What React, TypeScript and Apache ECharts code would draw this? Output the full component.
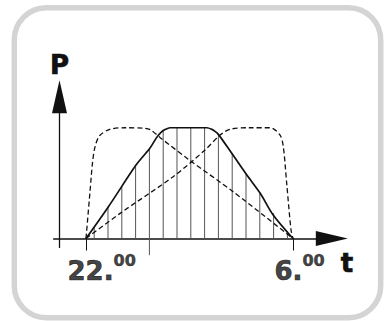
import React, { useEffect, useRef } from "react";
import * as echarts from "echarts";

// time in minutes after 22:00, power in % of maximum
const solidX = [0, 52, 116, 148, 164, 174, 183, 195, 280, 292, 300, 307, 338, 373, 404, 434, 480];
const solidY = [0, 28.7, 66.3, 81.4, 91.3, 95.8, 98.3, 100, 100, 98.5, 96.5, 94, 76.9, 57.3, 40.8, 21.2, 0];

const dashAX = [0, 9, 15, 21, 32, 55, 90, 135, 150, 172, 241, 342, 480];
const dashAY = [0, 41, 68, 83, 93, 98.5, 100, 99.5, 98, 91, 70.5, 42, 0];

const dashBX = [0, 79, 202, 276, 311, 334, 380, 427, 450, 457.5, 465.4, 475.4, 480];
const dashBY = [0, 22.7, 55.8, 79.9, 93.4, 98.6, 100, 100, 93.4, 82.9, 49.8, 7.7, 0];

const hatchX = [19, 51, 83, 115, 147, 179, 211, 243, 275, 307, 339, 371, 403, 435, 467];
const hatchTop = [10.5, 28.5, 46.5, 64.5, 81, 97.5, 100, 100, 100, 94, 76.5, 58.5, 41, 23, 6.5];
const hatchBottom = [0, 0, 0, 0, -15, 0, 0, 0, 0, 0, 0, 0, 0, 0, 0];

const timeTickValues = [0, 480];
const timeLabelMain = ["22.", "6."];
const timeLabelSup = ["00", "00"];

const FONT = "DejaVu Sans";
const INK = "#111111";

const heavy = {
  fontFamily: FONT,
  fontWeight: "bold",
  color: INK,
  textBorderColor: INK,
  textBorderWidth: 0.7,
};

export default function App() {
  const ref = useRef<HTMLDivElement>(null);
  useEffect(() => {
    if (!ref.current) return;
    const chart = echarts.init(ref.current, undefined, { renderer: "svg" });
    const zip = (xs: number[], ys: number[]) => xs.map((x, i) => [x, ys[i]]);
    chart.setOption({
      animation: false,
      backgroundColor: "#ffffff",
      graphic: [
        {
          type: "rect",
          shape: { x: 14.3, y: 7.8, width: 366.4, height: 310, r: 32 },
          style: { fill: "#ffffff", stroke: "#d4d4d4", lineWidth: 5.5 },
          z: -10,
          silent: true,
        },
      ],
      grid: { left: 53.66, top: 96.7, width: 278.16, height: 150.7 },
      xAxis: {
        type: "value",
        min: -75,
        max: 570,
        splitLine: { show: false },
        axisLabel: { show: false },
        axisTick: {
          show: true,
          customValues: timeTickValues,
          length: 12,
          lineStyle: { color: INK, width: 1 },
        },
        axisLine: {
          show: true,
          onZero: true,
          symbol: ["none", "triangle"],
          symbolSize: [15, 32],
          lineStyle: { color: INK, width: 1.5 },
        },
        name: "t",
        nameLocation: "end",
        nameGap: 9,
        nameTextStyle: {
          ...heavy,
          fontSize: 26,
          verticalAlign: "top",
          padding: [11, 0, 0, 0],
        },
      },
      yAxis: {
        type: "value",
        min: -8,
        max: 128,
        offset: -5.84,
        splitLine: { show: false },
        axisLabel: { show: false },
        axisTick: { show: false },
        axisLine: {
          show: true,
          onZero: false,
          symbol: ["none", "triangle"],
          symbolSize: [15, 33],
          lineStyle: { color: INK, width: 1.3 },
        },
        name: "P",
        nameLocation: "end",
        nameGap: 19,
        nameTextStyle: { ...heavy, fontSize: 26 },
      },
      series: [
        {
          type: "custom",
          name: "hatch",
          clip: false,
          data: hatchX.map((x, i) => [x, hatchTop[i], hatchBottom[i]]),
          encode: { x: 0, y: 1 },
          renderItem: (params: any, api: any) => {
            const p1 = api.coord([api.value(0), api.value(2)]);
            const p2 = api.coord([api.value(0), api.value(1)]);
            return {
              type: "line",
              shape: { x1: p1[0], y1: p1[1], x2: p2[0], y2: p2[1] },
              style: { stroke: "#555555", lineWidth: 1 },
            };
          },
          z: 1,
        },
        {
          type: "line",
          name: "dashA",
          data: zip(dashAX, dashAY),
          showSymbol: false,
          smooth: 0.3,
          lineStyle: { color: INK, width: 1.3, type: [5, 3] },
          z: 2,
        },
        {
          type: "line",
          name: "dashB",
          data: zip(dashBX, dashBY),
          showSymbol: false,
          smooth: 0.3,
          lineStyle: { color: INK, width: 1.3, type: [5, 3] },
          z: 2,
        },
        {
          type: "line",
          name: "power",
          data: zip(solidX, solidY),
          showSymbol: false,
          smooth: 0.3,
          lineStyle: { color: INK, width: 1.7 },
          z: 3,
        },
        {
          type: "scatter",
          name: "timeLabels",
          data: timeTickValues.map((x, i) => ({
            value: [x, 0],
            main: timeLabelMain[i],
            sup: timeLabelSup[i],
          })),
          symbolSize: 1,
          itemStyle: { color: "rgba(0,0,0,0)" },
          silent: true,
          label: {
            show: true,
            position: [-18, 14],
            align: "left",
            verticalAlign: "top",
            formatter: (p: any) => `{a|${p.data.main}}{b|${p.data.sup}}`,
            rich: {
              a: { ...heavy, fontSize: 26, verticalAlign: "bottom" },
              b: {
                ...heavy,
                fontSize: 16,
                textBorderWidth: 0.5,
                verticalAlign: "bottom",
                padding: [0, 0, 16, 0],
              },
            },
          },
          z: 4,
        },
      ],
    });
    return () => chart.dispose();
  }, []);
  return (
    <div
      ref={ref}
      style={{ position: "fixed", left: 0, top: 0, width: 386, height: 321 }}
    />
  );
}
